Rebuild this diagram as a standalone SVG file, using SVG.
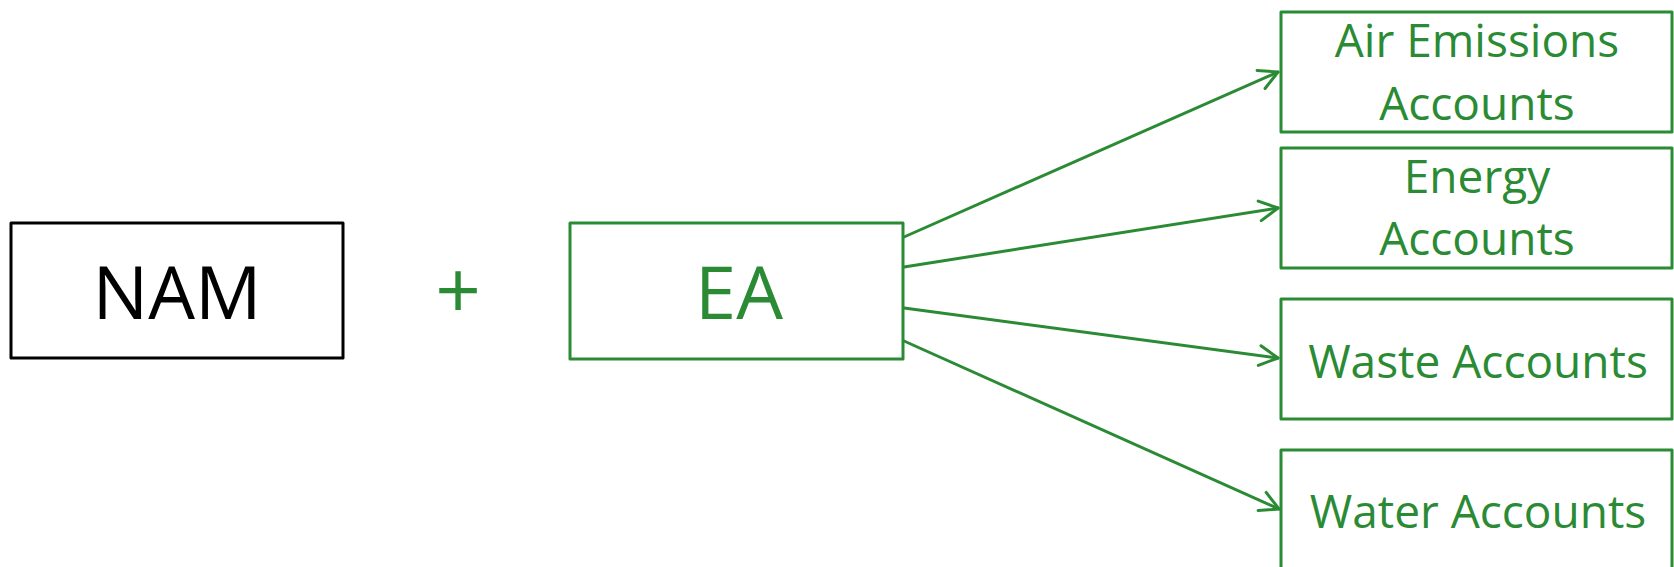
<svg xmlns="http://www.w3.org/2000/svg" width="1674" height="567" viewBox="0 0 1674 567">
<style>
.box{fill:#fff;stroke-width:3;stroke-linejoin:round}
.g{stroke:#2a8b34}
.k{stroke:#000}
.t{font-family:"Open Sans","Liberation Sans",sans-serif;text-anchor:middle}
.big{font-size:74px}
.sm{font-size:46px}
.gt{fill:#2a8b34}
.conn line{stroke:#2a8b34;stroke-width:3;stroke-linecap:round;fill:none}
</style>
<defs>
<marker id="arr" markerUnits="userSpaceOnUse" markerWidth="30" markerHeight="30" viewBox="-25 -15 30 30" refX="0" refY="0" orient="auto" overflow="visible">
<path d="M-18.5,-9.9 L0,0 L-18.5,9.9" fill="none" stroke="#2a8b34" stroke-width="3" stroke-linecap="round" stroke-linejoin="round"/>
</marker>
</defs>
<rect width="1674" height="567" fill="#fff"/>
<g id="nam">
<rect class="box k" x="11" y="223" width="332" height="135"/>
<text class="t big" x="177" y="319" fill="#000">NAM</text>
</g>
<g id="plus">
<text class="t gt" x="458" y="319" font-size="80">+</text>
</g>
<g id="ea">
<rect class="box g" x="570" y="223" width="333" height="136"/>
<text class="t big gt" x="739" y="319">EA</text>
</g>
<g id="air">
<rect class="box g" x="1281" y="12" width="391" height="120"/>
<text class="t sm gt" x="1477" y="57">Air Emissions</text>
<text class="t sm gt" x="1477" y="120">Accounts</text>
</g>
<g id="energy">
<rect class="box g" x="1281" y="148" width="391" height="120"/>
<text class="t sm gt" x="1477" y="193">Energy</text>
<text class="t sm gt" x="1477" y="255">Accounts</text>
</g>
<g id="waste">
<rect class="box g" x="1281" y="299" width="391" height="120"/>
<text class="t sm gt" x="1478" y="378">Waste Accounts</text>
</g>
<g id="water">
<rect class="box g" x="1281" y="450" width="391" height="130"/>
<text class="t sm gt" x="1478" y="528">Water Accounts</text>
</g>
<g id="connectors" class="conn">
<line x1="904" y1="237" x2="1278" y2="72" marker-end="url(#arr)"/>
<line x1="904" y1="267" x2="1278" y2="208" marker-end="url(#arr)"/>
<line x1="904" y1="308" x2="1278" y2="358" marker-end="url(#arr)"/>
<line x1="904" y1="341" x2="1279" y2="509" marker-end="url(#arr)"/>
</g>
</svg>
